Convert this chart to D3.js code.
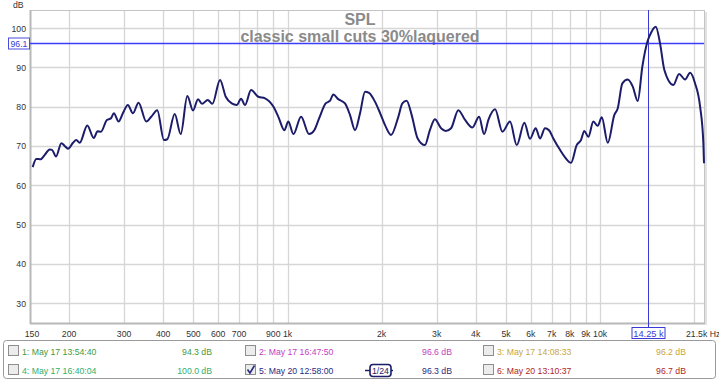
<!DOCTYPE html>
<html><head><meta charset="utf-8">
<script src="https://cdn.jsdelivr.net/npm/d3@7"></script>
<style>
body{margin:0;background:#fff;}
svg{display:block;font-family:"Liberation Sans",Arial,sans-serif;}
</style></head>
<body><svg id="c" width="719" height="381"></svg>
<script>
// ---- data ----
const freq = [153,157.1,162.3,167.2,173.4,176.4,181.7,189,193.7,198.5,205.9,211,216.3,228.8,239.9,246.8,252.9,264.3,272.2,278.3,288,297.3,308.5,320.1,333.8,353.1,366.3,383,402.4,412.5,435.6,455.3,478,498.5,517.2,532.7,555.6,574.8,608.3,634.4,663,688,710.1,731.3,764.3,806.6,847.4,900.8,934.6,976.9,1006,1044,1105,1172,1218,1262,1324,1368,1401,1453,1527,1584,1644,1706,1770,1823,1906,1979,2051,2144,2262,2330,2405,2495,2608,2751,2854,2961,3099,3208,3336,3520,3699,3903,4101,4255,4392,4614,4869,5150,5412,5724,5966,6222,6424,6664,6864,7085,7443,7724,8073,8417,8689,8903,9170,9515,9829,10124,10582,11108,11391,11782,12260,12721,13198,13653,14207,14557,15069,15554,16056,17157,17893,18703,19406,20134,20891,21400,21500];
const spl = [64.6,66.7,66.6,67.7,69.1,69.0,67.3,70.7,70.0,69.3,70.8,71.5,70.8,75.2,72.0,73.7,73.6,76.6,77.0,78.3,76.2,78.3,80.4,78.3,81.0,76.2,77.4,79.1,71.5,71.7,78.1,73.0,82.7,79.0,81.9,80.7,81.7,80.7,86.8,82.5,80.8,80.4,82.0,80.4,84.2,82.5,82.1,80.0,77.4,74.0,76.2,73.0,77.4,73.0,74.0,77.0,80.8,81.5,83.1,81.9,80.8,77.9,74.0,78.3,83.8,83.5,81.2,78.3,75.3,72.8,77.4,80.8,81.5,77.9,71.9,70.2,74.0,76.8,74.5,73.8,74.5,79.1,76.6,74.7,77.4,73.0,76.6,79.3,73.6,76.2,70.2,75.9,71.8,74.5,71.9,74.5,74.0,71.9,69.0,67.1,65.7,70.2,71.5,73.8,72.3,76.2,75.1,77.3,70.8,77.9,79.6,85.9,86.9,85.1,81.4,90.2,96.8,98.8,100.3,96.1,89.3,85.5,88.3,86.9,88.6,85.9,80.0,70.7,65.6];
const yTicks = [30,40,50,60,70,80,90,100];
const xGrid = [200,300,400,500,600,700,800,900,1000,2000,3000,4000,5000,6000,7000,8000,9000,10000,20000];
const xLabelVals = [150,200,300,400,500,600,700,900,1000,2000,3000,4000,5000,6000,7000,8000,9000,10000];
const xLabelText = ["150","200","300","400","500","600","700","900","1k","2k","3k","4k","5k","6k","7k","8k","9k","10k"];
const cursorFreq = 14250, cursorDb = 96.1;
const title = "SPL", subtitle = "classic small cuts 30%laquered";
const legendNames = ["1: May 17 13:54:40","2: May 17 16:47:50","3: May 17 14:08:33","4: May 17 16:40:04","5: May 20 12:58:00","6: May 20 13:10:37"];
const legendValues = ["94.3 dB","96.6 dB","96.2 dB","100.0 dB","96.3 dB","96.7 dB"];
const legendColors = ["#3f9a3f","#c23ec2","#c9a63c","#2fb070","#2b2b80","#b02626"];
const legendChecked = [false,false,false,false,true,false];

// ---- font choice: prefer narrow face ----
const svg = d3.select("#c");
const probeA = svg.append("text").attr("font-family","'Liberation Sans Narrow'").attr("font-size",20).text("May 17 13:54:40 Hz");
const probeB = svg.append("text").attr("font-family","'Liberation Sans'").attr("font-size",20).text("May 17 13:54:40 Hz");
const narrowOK = probeA.node().getComputedTextLength() < probeB.node().getComputedTextLength()*0.92;
probeA.remove(); probeB.remove();
const SF = narrowOK ? "'Liberation Sans Narrow','Liberation Sans',Arial,sans-serif" : "'Liberation Sans',Arial,sans-serif";
const FS = narrowOK ? 10.6 : 8.7;

const L=30,R=704,T=10,B=323;
const x = d3.scaleLog().domain([150,21500]).range([L,R]);
const y = d3.scaleLinear().domain([24.94,104.58]).range([B,T]);

svg.append("rect").attr("x",L).attr("y",T).attr("width",R-L).attr("height",B-T).attr("fill","#fff");
// grid
svg.append("g").selectAll("line").data(xGrid).join("line")
  .attr("x1",d=>Math.round(x(d))+0.5).attr("x2",d=>Math.round(x(d))+0.5).attr("y1",T).attr("y2",B)
  .attr("stroke","#d6d6d6").attr("stroke-width",1.3);
svg.append("g").selectAll("line").data(yTicks).join("line")
  .attr("y1",d=>Math.round(y(d))+0.5).attr("y2",d=>Math.round(y(d))+0.5).attr("x1",L).attr("x2",R)
  .attr("stroke","#d6d6d6").attr("stroke-width",1.3);
// frame
svg.append("rect").attr("x",L+0.5).attr("y",T+0.5).attr("width",R-L).attr("height",B-T)
  .attr("fill","none").attr("stroke","#c4c4c4");
svg.append("line").attr("x1",L+0.5).attr("x2",L+0.5).attr("y1",T).attr("y2",B+1).attr("stroke","#b8b8b8").attr("stroke-width",2);
svg.append("line").attr("x1",L).attr("x2",R+1).attr("y1",B+0.5).attr("y2",B+0.5).attr("stroke","#b8b8b8").attr("stroke-width",2);
svg.append("line").attr("x1",R+2).attr("x2",R+2).attr("y1",T+2).attr("y2",B+2).attr("stroke","#e2e2e2").attr("stroke-width",2);

// y labels
svg.append("g").selectAll("text").data(yTicks).join("text")
  .attr("x",26).attr("y",d=>y(d)+3.5).attr("text-anchor","end").attr("font-family",SF)
  .attr("font-size",FS).attr("fill","#333").text(d=>d);
svg.append("text").attr("x",13).attr("y",8).attr("font-family",SF).attr("font-size",FS).attr("fill","#333").text("dB");
// x labels
svg.append("g").selectAll("text").data(xLabelVals).join("text")
  .attr("x",(d,i)=>x(d)+(i===0?2:0)).attr("y",337).attr("text-anchor","middle").attr("font-family",SF)
  .attr("font-size",FS).attr("fill","#333").text((d,i)=>xLabelText[i]);
svg.append("text").attr("x",686).attr("y",337).attr("font-family",SF).attr("font-size",FS).attr("fill","#333").text("21.5k Hz");

// titles
svg.append("text").attr("x",360).attr("y",25).attr("text-anchor","middle").attr("font-size",16)
  .attr("font-weight","bold").attr("fill","#8a8a8a").text(title);
svg.append("text").attr("x",360).attr("y",42).attr("text-anchor","middle").attr("font-size",16)
  .attr("font-weight","bold").attr("fill","#8a8a8a").text(subtitle);

// cursors
const cx = Math.round(x(cursorFreq))+0.5, cy = Math.round(y(cursorDb))+0.5;
svg.append("line").attr("x1",L).attr("x2",R).attr("y1",cy).attr("y2",cy).attr("stroke","#3c3cff").attr("stroke-width",1.5);
svg.append("line").attr("x1",cx).attr("x2",cx).attr("y1",T).attr("y2",B+4).attr("stroke","#3a3ad6").attr("stroke-width",1);

// curve
const line = d3.line().x((d,i)=>x(freq[i])).y(d=>y(d)).curve(d3.curveMonotoneX);
svg.append("path").attr("d",line(spl)).attr("fill","none").attr("stroke","#1c1c6a").attr("stroke-width",2);

// cursor boxes
svg.append("rect").attr("x",8.5).attr("y",cy-5.5).attr("width",21).attr("height",11).attr("fill","#fff").attr("stroke","#4a4ae0");
svg.append("text").attr("x",19).attr("y",cy+3.5).attr("text-anchor","middle").attr("font-family",SF).attr("font-size",FS).attr("fill","#3a3ad6").text(cursorDb.toFixed(1));
svg.append("rect").attr("x",cx-16.5).attr("y",327.5).attr("width",33).attr("height",11).attr("fill","#fff").attr("stroke","#3a3ad6");
svg.append("text").attr("x",cx).attr("y",337).attr("text-anchor","middle").attr("font-family",SF).attr("font-size",FS+0.6).attr("fill","#3a3ad6").text((cursorFreq/1000).toFixed(2)+" k");

// legend
svg.append("rect").attr("x",3.5).attr("y",340.5).attr("width",712).attr("height",38).attr("rx",3)
  .attr("fill","#fff").attr("stroke","#9a9a9a");
const colX = [8,245,483], valX = [212,452,686], rowY = [351,370];
legendNames.forEach((n,i)=>{
  const c = i%3, r = Math.floor(i/3);
  const g = svg.append("g");
  g.append("rect").attr("x",colX[c]+0.5).attr("y",rowY[r]-5.5).attr("width",10).attr("height",10)
    .attr("fill","#ececec").attr("stroke","#8e8e8e");
  if(legendChecked[i]){
    g.append("path").attr("d",`M${colX[c]+2.5},${rowY[r]-0.5} L${colX[c]+5},${rowY[r]+3} L${colX[c]+9.5},${rowY[r]-4.5}`)
      .attr("fill","none").attr("stroke","#2b2b80").attr("stroke-width",1.6);
  }
  g.append("text").attr("x",colX[c]+14).attr("y",rowY[r]+4).attr("font-family",SF).attr("font-size",FS).attr("fill",legendColors[i]).text(n);
  g.append("text").attr("x",valX[c]).attr("y",rowY[r]+4).attr("text-anchor","end").attr("font-family",SF).attr("font-size",FS).attr("fill",legendColors[i]).text(legendValues[i]);
});
// smoothing icon
const sg = svg.append("g");
sg.append("line").attr("x1",365).attr("x2",393).attr("y1",370.5).attr("y2",370.5).attr("stroke","#1c1c6a").attr("stroke-width",1.5);
sg.append("rect").attr("x",370).attr("y",364.5).attr("width",21).attr("height",12).attr("rx",3).attr("fill","#fff").attr("stroke","#1c1c6a").attr("stroke-width",1.6);
sg.append("text").attr("x",380.5).attr("y",374).attr("text-anchor","middle").attr("font-family",SF).attr("font-size",FS).attr("fill","#1c1c6a").text("1/24");
</script></body></html>
